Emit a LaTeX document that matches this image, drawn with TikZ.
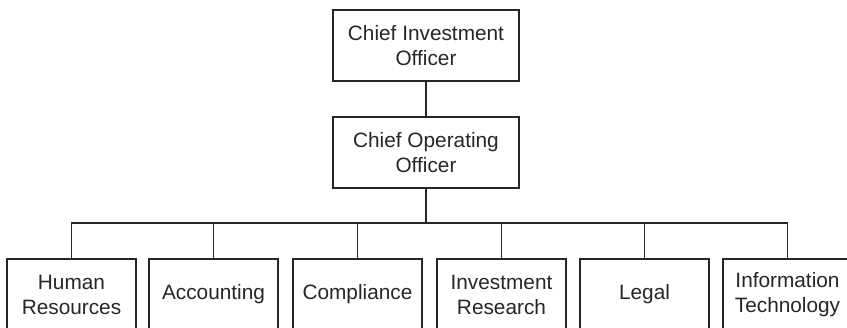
\documentclass[tikz,border=0pt]{standalone}
\usepackage{fontspec}
\setmainfont{Liberation Sans}
\begin{document}
\begin{tikzpicture}[x=0.75pt, y=-0.75pt,
    line width=1pt, draw=black!85, text=black!85,
    every node/.append style={draw, align=center, font=\fontsize{15.6}{18.8}\selectfont},
    chiefbox/.style={minimum width=139.5pt, minimum height=53.25pt},
    deptbox/.style={minimum width=96.75pt, minimum height=53.25pt}]
    \useasboundingbox (0,0) rectangle (847,328);
    \clip (0,0) rectangle (847,328);

    \node[chiefbox] (cio_name) at (426,45.5) {Chief Investment\\Officer};
    \node[chiefbox] (coo_name) at (426,152.5) {Chief Operating\\Officer};

    \node[deptbox] (hr_name) at (71.5,294.5) {Human\\Resources};
    \node[deptbox] (acct_name) at (213.5,294.5) {Accounting};
    \node[deptbox] (compl_name) at (357.5,294.5) {Compliance};
    \node[deptbox] (invres_name) at (501.5,294.5) {Investment\\Research};
    \node[deptbox] (legal_name) at (644.5,294.5) {Legal};
    \node[deptbox] (it_name) at (787.5,294.5) {Information\\Technology};

    \coordinate (bar) at (426,223);

    \draw (cio_name) -- (coo_name);
    \draw (coo_name) -- (bar);
    \draw
        (bar) -| (hr_name)
        (bar) -| (acct_name)
        (bar) -| (compl_name)
        (bar) -| (invres_name)
        (bar) -| (legal_name)
        (bar) -| (it_name);
\end{tikzpicture}
\end{document}
